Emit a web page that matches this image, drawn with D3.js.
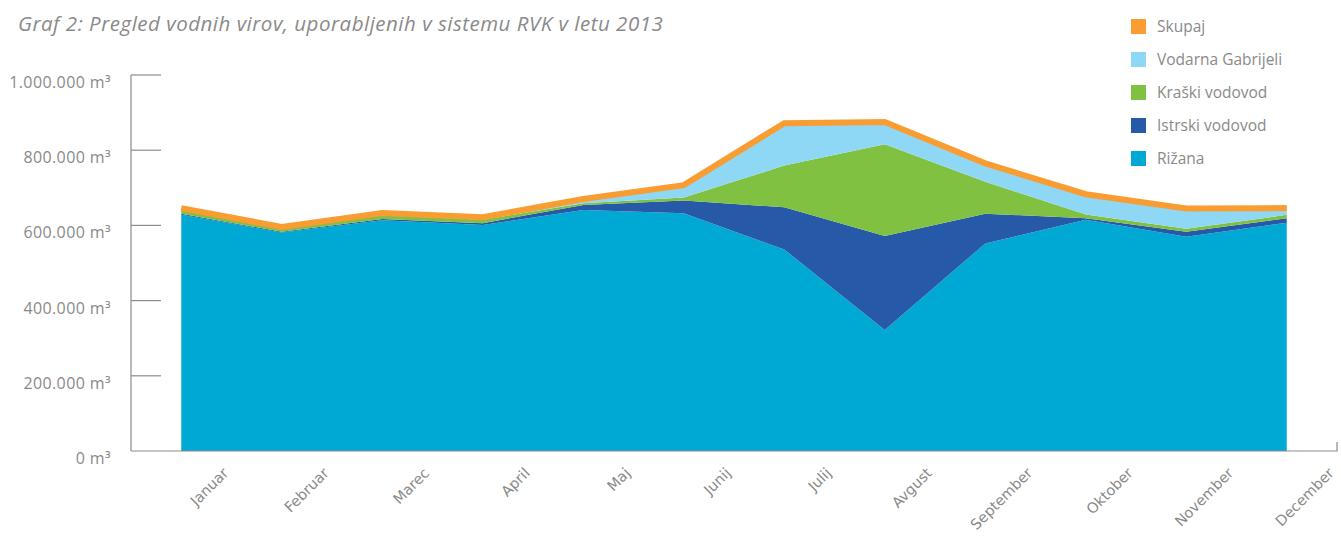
<!DOCTYPE html>
<html>
  <head>
    <meta charset="utf-8" />
    <title>Graf 2</title>
    <style>
      body {
        margin: 0;
        background: #fff;
      }
      .title {
        font-family: 'Open Sans', sans-serif;
        font-style: italic;
        font-size: 20.5px;
        letter-spacing: 0.5px;
        fill: #8a8a8a;
      }
      .ylab, .legend text {
        font-family: 'Open Sans', sans-serif;
        font-size: 15.5px;
        fill: #8a8a8a;
      }
      .ylab {
        font-size: 16px;
        letter-spacing: 0.4px;
      }
      .xlab {
        font-family: 'DejaVu Sans', sans-serif;
        font-size: 14.5px;
        fill: #8a8a8a;
      }
      .axis {
        stroke: #8c8c8c;
        stroke-width: 1.2px;
        fill: none;
      }
    </style>
    <script src="https://d3js.org/d3.v7.min.js"></script>
  </head>
  <body>
    <div id="chart"></div>
    <script>
      // months on the x axis
      const months = ["Januar", "Februar", "Marec", "April", "Maj", "Junij",
        "Julij", "Avgust", "September", "Oktober", "November", "December"];

      // monthly volumes in m3
      const rizana  = [628000, 581000, 614000, 601000, 641000, 632000, 536000, 322000, 552000, 615000, 570000, 607000];
      const istrski = [3000, 2000, 3000, 5000, 13000, 34000, 112000, 250000, 79000, 4000, 13000, 12000];
      const kraski  = [10000, 10000, 10000, 9000, 5000, 8000, 111000, 244000, 85000, 10000, 8000, 9000];
      const vodarna = [5000, 3000, 6000, 7000, 11000, 33000, 113000, 59000, 49000, 54000, 54000, 18000];
      const skupaj  = [646000, 596000, 633000, 622000, 670000, 707000, 872000, 875000, 765000, 683000, 645000, 646000];

      const yTicks = [0, 200000, 400000, 600000, 800000, 1000000];

      const seriesNames = ["Rižana", "Istrski vodovod", "Kraški vodovod", "Vodarna Gabrijeli"];
      const seriesColors = ["#00a9d4", "#265aa8", "#80c141", "#8fd8f5"];
      const totalName = "Skupaj";
      const totalColor = "#f99d33";

      const W = 1341, H = 542;
      const svg = d3.select("#chart").append("svg")
        .attr("width", W).attr("height", H);

      const x = d3.scalePoint().domain(months).range([131, 1337]).padding(0.5);
      const y = d3.scaleLinear().domain([0, 1000000]).range([451, 75]);

      // build rows for the stack
      const rows = months.map((m, i) => ({
        month: m,
        "Rižana": rizana[i],
        "Istrski vodovod": istrski[i],
        "Kraški vodovod": kraski[i],
        "Vodarna Gabrijeli": vodarna[i],
      }));
      const stacked = d3.stack().keys(seriesNames)(rows);

      const area = d3.area()
        .x(d => x(d.data.month))
        .y0(d => y(d[0]))
        .y1(d => y(d[1]));

      svg.append("g").selectAll("path")
        .data(stacked)
        .join("path")
        .attr("d", area)
        .attr("fill", (d, i) => seriesColors[i]);

      // total line on top
      const line = d3.line()
        .x((d, i) => x(months[i]))
        .y(d => y(d));
      svg.append("path")
        .datum(skupaj)
        .attr("d", line)
        .attr("fill", "none")
        .attr("stroke", totalColor)
        .attr("stroke-width", 6)
        .attr("stroke-linejoin", "miter")
        .attr("stroke-linecap", "butt");

      // y axis: vertical line + ticks pointing right
      svg.append("line").attr("class", "axis")
        .attr("x1", 131).attr("x2", 131)
        .attr("y1", y(1000000)).attr("y2", y(0));
      svg.append("g").selectAll("line")
        .data(yTicks.filter(t => t > 0))
        .join("line").attr("class", "axis")
        .attr("x1", 131).attr("x2", 161)
        .attr("y1", d => y(d)).attr("y2", d => y(d));

      const fmt = d3.formatLocale({ decimal: ",", thousands: ".", grouping: [3], currency: ["", ""] }).format(",d");
      svg.append("g").selectAll("text")
        .data(yTicks)
        .join("text").attr("class", "ylab")
        .attr("x", 111)
        .attr("y", d => y(d) + 13)
        .attr("text-anchor", "end")
        .text(d => fmt(d) + " m³");

      // x axis line with end tick
      svg.append("path").attr("class", "axis")
        .attr("d", `M131,${y(0)}H1337V${y(0) - 9}`);

      // rotated month labels
      svg.append("g").selectAll("text")
        .data(months)
        .join("text").attr("class", "xlab")
        .attr("text-anchor", "end")
        .attr("transform", d => `translate(${x(d) + 48},${474}) rotate(-45)`)
        .text(d => d);

      // title
      svg.append("text").attr("class", "title")
        .attr("x", 18).attr("y", 31)
        .text("Graf 2: Pregled vodnih virov, uporabljenih v sistemu RVK v letu 2013");

      // legend
      const legendItems = [totalName].concat(seriesNames.slice().reverse());
      const legendColors = [totalColor].concat(seriesColors.slice().reverse());
      const lg = svg.append("g").attr("class", "legend")
        .selectAll("g").data(legendItems).join("g")
        .attr("transform", (d, i) => `translate(1131,${19 + i * 33})`);
      lg.append("rect").attr("width", 15).attr("height", 15)
        .attr("fill", (d, i) => legendColors[i]);
      lg.append("text").attr("x", 26).attr("y", 13).text(d => d);
    </script>
  </body>
</html>
